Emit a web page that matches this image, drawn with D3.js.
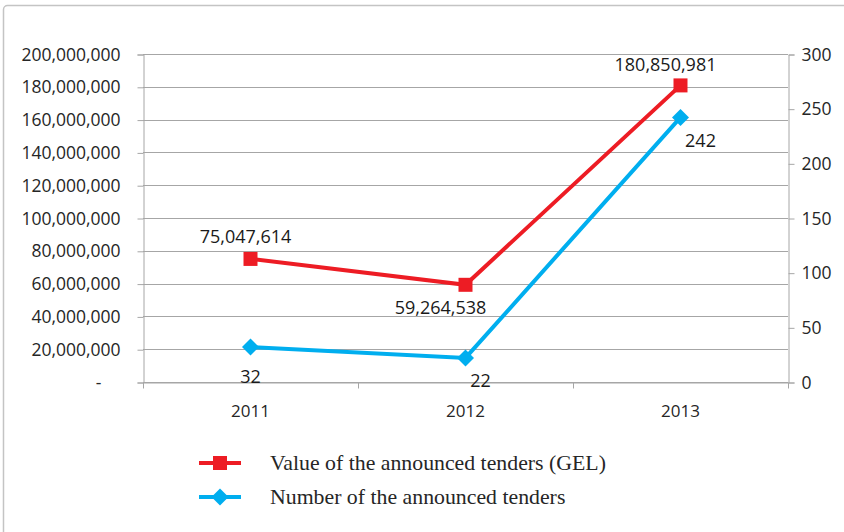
<!DOCTYPE html>
<html>
<head>
<meta charset="utf-8">
<script src="https://cdn.jsdelivr.net/npm/d3@7/dist/d3.min.js"></script>
<style>
  html, body { margin: 0; padding: 0; background: #fff; }
  svg { display: block; }
</style>
</head>
<body>
<svg id="chart" width="844" height="532"></svg>
<script>
// Tender statistics, 2011–2013
const years = ["2011", "2012", "2013"];
const tenderValues = [75047614, 59264538, 180850981];   // GEL
const tenderCounts = [32, 22, 242];
const leftTicks = [0, 20e6, 40e6, 60e6, 80e6, 100e6, 120e6, 140e6, 160e6, 180e6, 200e6];
const rightTicks = [0, 50, 100, 150, 200, 250, 300];
const seriesNames = ["Value of the announced tenders (GEL)", "Number of the announced tenders"];

const red = "#ED1C24", blue = "#00AEEF";
const axisFont = "'Open Sans', sans-serif";

const svg = d3.select("#chart");
const plot = { left: 143, right: 788, top: 54, bottom: 382 };

// outer frame
svg.append("rect")
  .attr("x", 3.5).attr("y", 5.5).attr("width", 900).attr("height", 600)
  .attr("rx", 4).attr("fill", "none").attr("stroke", "#c4c4c4").attr("stroke-width", 1.5);

const x = d3.scaleBand().domain(years).range([plot.left, plot.right]).padding(0);
const yL = d3.scaleLinear().domain([0, 200e6]).range([plot.bottom, plot.top]);
const yR = d3.scaleLinear().domain([0, 300]).range([plot.bottom, plot.top]);

// horizontal gridlines
svg.append("g").selectAll("line").data(leftTicks).join("line")
  .attr("x1", plot.left).attr("x2", plot.right)
  .attr("y1", d => Math.round(yL(d)) + 0.5).attr("y2", d => Math.round(yL(d)) + 0.5)
  .attr("stroke", "#a6a6a6").attr("stroke-width", 1);

// left axis (accounting style: zero shown as a dash)
const fmtL = d => d === 0 ? "-" : d3.format(",")(d);
const gL = svg.append("g").attr("transform", `translate(${plot.left + 0.5},0.5)`)
  .call(d3.axisLeft(yL).tickValues(leftTicks).tickFormat(fmtL).tickSize(6).tickPadding(17));
gL.selectAll("text").attr("font-family", axisFont).attr("font-size", 17.5).attr("fill", "#262626");
gL.selectAll(".tick").filter(d => d === 0).select("text").attr("dx", -19);

// right axis
const gR = svg.append("g").attr("transform", `translate(${plot.right + 0.5},0.5)`)
  .call(d3.axisRight(yR).tickValues(rightTicks).tickSize(6).tickPadding(7));
gR.selectAll("text").attr("font-family", axisFont).attr("font-size", 17.5).attr("fill", "#262626");

// bottom axis with ticks at category boundaries
const gB = svg.append("g").attr("transform", `translate(0,${plot.bottom + 0.5})`)
  .call(d3.axisBottom(x).tickSize(0).tickPadding(22));
gB.selectAll("text").attr("font-family", axisFont).attr("font-size", 17).attr("fill", "#262626");
const bounds = years.map(d => x(d)).concat([x(years[years.length - 1]) + x.bandwidth()]);
gB.selectAll("line.bnd").data(bounds).join("line").attr("class", "bnd")
  .attr("x1", d => Math.round(d) + 0.5).attr("x2", d => Math.round(d) + 0.5)
  .attr("y1", 0).attr("y2", 6);

[gL, gR, gB].forEach(g => {
  g.selectAll("path.domain").attr("stroke", "#a6a6a6");
  g.selectAll("line").attr("stroke", "#a6a6a6");
});

const cx = d => x(d) + x.bandwidth() / 2;

// value series (left axis)
svg.append("path")
  .datum(tenderValues)
  .attr("fill", "none").attr("stroke", red).attr("stroke-width", 4)
  .attr("d", d3.line().x((d, i) => cx(years[i])).y(d => yL(d)));
svg.append("g").selectAll("rect").data(tenderValues).join("rect")
  .attr("x", (d, i) => cx(years[i]) - 7).attr("y", d => yL(d) - 7)
  .attr("width", 14).attr("height", 14).attr("fill", red);

// count series (right axis)
svg.append("path")
  .datum(tenderCounts)
  .attr("fill", "none").attr("stroke", blue).attr("stroke-width", 4)
  .attr("d", d3.line().x((d, i) => cx(years[i])).y(d => yR(d)));
const diamond = "M0,-8.5L8.5,0L0,8.5L-8.5,0Z";
svg.append("g").selectAll("path").data(tenderCounts).join("path")
  .attr("transform", (d, i) => `translate(${cx(years[i])},${yR(d)})`)
  .attr("d", diamond).attr("fill", blue);

// data labels
const valOffsets = [[-5, -16], [-25, 29], [-15, -14]];
svg.append("g").selectAll("text").data(tenderValues).join("text")
  .attr("x", (d, i) => cx(years[i]) + valOffsets[i][0])
  .attr("y", (d, i) => yL(d) + valOffsets[i][1])
  .attr("text-anchor", "middle")
  .attr("font-family", axisFont).attr("font-size", 18).attr("fill", "#1a1a1a")
  .text(d => d3.format(",")(d));

const cntOffsets = [[0, 36], [15, 29], [20, 30]];
svg.append("g").selectAll("text").data(tenderCounts).join("text")
  .attr("x", (d, i) => cx(years[i]) + cntOffsets[i][0])
  .attr("y", (d, i) => yR(d) + cntOffsets[i][1])
  .attr("text-anchor", "middle")
  .attr("font-family", axisFont).attr("font-size", 18).attr("fill", "#1a1a1a")
  .text(d => d);

// legend
const legend = svg.append("g").attr("transform", "translate(199,463)");
const items = legend.selectAll("g").data(seriesNames).join("g")
  .attr("transform", (d, i) => `translate(0,${i * 34})`);
items.append("line").attr("x1", 0).attr("x2", 42).attr("y1", 0).attr("y2", 0)
  .attr("stroke", (d, i) => i === 0 ? red : blue).attr("stroke-width", 4);
items.filter((d, i) => i === 0).append("rect")
  .attr("x", 14).attr("y", -7).attr("width", 14).attr("height", 14).attr("fill", red);
items.filter((d, i) => i === 1).append("path")
  .attr("transform", "translate(21,0)").attr("d", diamond).attr("fill", blue);
items.append("text").attr("x", 71).attr("y", 7)
  .attr("font-family", "'Liberation Serif', serif").attr("font-size", 21.8).attr("fill", "#262626")
  .text(d => d);
</script>
</body>
</html>
